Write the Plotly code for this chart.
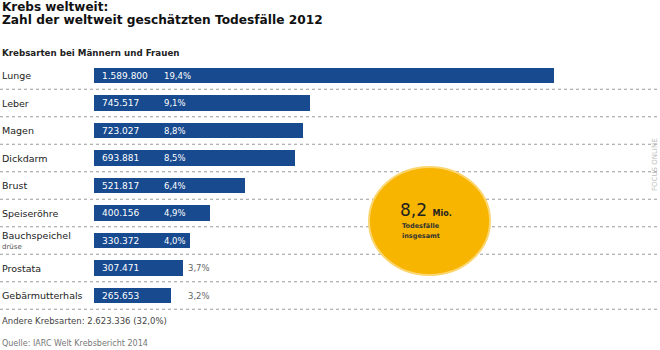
import plotly.graph_objects as go

categories = ["Lunge", "Leber", "Magen", "Dickdarm", "Brust", "Speiseröhre",
              "Bauchspeichel", "Prostata", "Gebärmutterhals"]
sub_labels = ["", "", "", "", "", "", "drüse", "", ""]
values = [1589800, 745517, 723027, 693881, 521817, 400156, 330372, 307471, 265653]
value_labels = ["1.589.800", "745.517", "723.027", "693.881", "521.817", "400.156",
                "330.372", "307.471", "265.653"]
pct_labels = ["19,4%", "9,1%", "8,8%", "8,5%", "6,4%", "4,9%", "4,0%", "3,7%", "3,2%"]
title_line1 = "Krebs weltweit:"
title_line2 = "Zahl der weltweit geschätzten Todesfälle 2012"
subtitle = "Krebsarten bei Männern und Frauen"
other_text = "Andere Krebsarten: 2.623.336 (32,0%)"
source_text = "Quelle: IARC Welt Krebsbericht 2014"
total_big = "8,2"
total_unit = "Mio."
total_desc = ["Todesfälle", "insgesamt"]
watermark = "FOCUS ONLINE"

W, H = 660, 350
BAR_LEFT, BAR_REF_RIGHT = 94, 554
ROW0, ROW_STEP = 75.5, 27.5
units_per_px = values[0] / (BAR_REF_RIGHT - BAR_LEFT)
x_range = [-BAR_LEFT * units_per_px, (W - BAR_LEFT) * units_per_px]
y_range = [(H - ROW0) / ROW_STEP, -ROW0 / ROW_STEP]

FONT = "DejaVu Sans"
BLUE = "#174a8f"
idx = list(range(len(categories)))

fig = go.Figure()
fig.add_trace(go.Bar(x=values, y=idx, orientation="h", width=0.56,
                     marker=dict(color=BLUE, line=dict(width=0)),
                     hoverinfo="skip"))

def px(x):
    return x / W

def py(y):
    return 1 - y / H

ann = []
shapes = []

# dotted separators
for i in idx:
    shapes.append(dict(type="line", xref="paper", yref="y", x0=0, x1=1,
                       y0=i + 0.5, y1=i + 0.5, layer="below",
                       line=dict(color="#9a9a9a", width=1, dash="dot")))

for i, (c, s, v, vl, pl) in enumerate(zip(categories, sub_labels, values, value_labels, pct_labels)):
    if s:
        ann.append(dict(text=c, xref="paper", yref="y", x=px(0), y=i, yshift=5,
                        xanchor="left", yanchor="middle", showarrow=False,
                        font=dict(family=FONT, size=9.5, color="#222")))
        ann.append(dict(text=s, xref="paper", yref="y", x=px(0), y=i, yshift=-6,
                        xanchor="left", yanchor="middle", showarrow=False,
                        font=dict(family=FONT, size=7, color="#555")))
    else:
        ann.append(dict(text=c, xref="paper", yref="y", x=px(0), y=i,
                        xanchor="left", yanchor="middle", showarrow=False,
                        font=dict(family=FONT, size=9.5, color="#222")))
    ann.append(dict(text=vl, xref="x", yref="y", x=0, xshift=6, y=i,
                    xanchor="left", yanchor="middle", showarrow=False,
                    font=dict(family=FONT, size=9, color="white")))
    inside = v > 320000
    ann.append(dict(text=pl, xref="x", yref="y", x=0, xshift=68 if inside else 92, y=i,
                    xanchor="left", yanchor="middle", showarrow=False,
                    font=dict(family=FONT, size=8.5, color="white" if inside else "#666")))

# titles
ann.append(dict(text="<b>" + title_line1 + "</b>", xref="paper", yref="paper",
                x=px(0), y=py(7), xanchor="left", yanchor="middle", showarrow=False,
                font=dict(family=FONT, size=12, color="#111")))
ann.append(dict(text="<b>" + title_line2 + "</b>", xref="paper", yref="paper",
                x=px(0), y=py(20), xanchor="left", yanchor="middle", showarrow=False,
                font=dict(family=FONT, size=12.2, color="#111")))
ann.append(dict(text="<b>" + subtitle + "</b>", xref="paper", yref="paper",
                x=px(0), y=py(53), xanchor="left", yanchor="middle", showarrow=False,
                font=dict(family=FONT, size=8.7, color="#222")))
ann.append(dict(text=other_text, xref="paper", yref="paper",
                x=px(0), y=py(321), xanchor="left", yanchor="middle", showarrow=False,
                font=dict(family=FONT, size=8.5, color="#444")))
ann.append(dict(text=source_text, xref="paper", yref="paper",
                x=px(0), y=py(343), xanchor="left", yanchor="middle", showarrow=False,
                font=dict(family=FONT, size=8, color="#777")))

# total circle
shapes.append(dict(type="circle", xref="paper", yref="paper",
                   x0=px(369), x1=px(490), y0=py(275), y1=py(167), layer="above",
                   fillcolor="#f7b500", line=dict(color="#fbd56e", width=2)))
ann.append(dict(text=total_big + " <span style='font-size:8px'><b>" + total_unit + "</b></span>",
                xref="paper", yref="paper", x=px(426), y=py(210),
                xanchor="center", yanchor="middle", showarrow=False,
                font=dict(family=FONT, size=17, color="#222")))
ann.append(dict(text="<b>" + total_desc[0] + "</b>", xref="paper", yref="paper",
                x=px(421), y=py(226), xanchor="center", yanchor="middle", showarrow=False,
                font=dict(family=FONT, size=6.5, color="#333")))
ann.append(dict(text="<b>" + total_desc[1] + "</b>", xref="paper", yref="paper",
                x=px(421), y=py(236), xanchor="center", yanchor="middle", showarrow=False,
                font=dict(family=FONT, size=6.5, color="#333")))

# watermark
ann.append(dict(text=watermark, xref="paper", yref="paper", x=px(655), y=py(165),
                xanchor="center", yanchor="middle", showarrow=False, textangle=-90,
                font=dict(family=FONT, size=7, color="#bdbdbd")))

fig.update_layout(
    width=W, height=H, margin=dict(l=0, r=0, t=0, b=0),
    paper_bgcolor="white", plot_bgcolor="white", showlegend=False,
    xaxis=dict(range=x_range, visible=False, fixedrange=True),
    yaxis=dict(range=y_range, visible=False, fixedrange=True),
    annotations=ann, shapes=shapes, bargap=0,
)
fig.write_html("out.html")
